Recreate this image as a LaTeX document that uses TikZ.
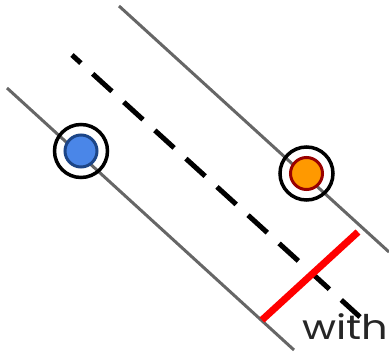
\documentclass[tikz,border=0pt]{standalone}
\usepackage{fontspec}
\setmainfont{Poppins}
\begin{document}
\begin{tikzpicture}[x=1pt,y=-1pt,
  rail/.style={draw=black!60, line width=3pt},
  midline/.style={draw=black, line width=5pt, dash pattern=on 26pt off 16pt, dash phase=14pt},
  ring/.style={circle, draw=black, line width=3.5pt, minimum size=53pt, inner sep=0pt},
  dot/.style={circle, line width=3pt, minimum size=32pt, inner sep=0pt},
  margin/.style={draw=red, line width=7pt}
]
\definecolor{ptblue}{HTML}{4A86E8}
\definecolor{ptblueedge}{HTML}{1C4587}
\definecolor{ptorange}{HTML}{FF9900}
\definecolor{ptorangeedge}{HTML}{990000}
\useasboundingbox (0,0) rectangle (389,353);
% boundary lines
\coordinate (u1) at (119,6);
\coordinate (u2) at (389,252);
\coordinate (l1) at (7,88);
\coordinate (l2) at (294,350);
\draw[rail] (u1) -- (u2);
\draw[rail] (l1) -- (l2);
% decision boundary
\coordinate (d1) at (72,55);
\coordinate (d2) at (360,317);
\draw[midline] (d1) -- (d2);
% support vectors
\node[ring] (rb) at (81,151) {};
\node[dot, fill=ptblue, draw=ptblueedge] (pb) at (81,151) {};
\node[ring] (ro) at (306.5,173.5) {};
\node[dot, fill=ptorange, draw=ptorangeedge] (po) at (306.5,173.5) {};
% margin width
\coordinate (m1) at (262,320);
\coordinate (m2) at (358,232);
\draw[margin] (m1) -- (m2);
\node[anchor=base west, inner sep=0pt, xscale=1.22, font=\fontsize{34}{36}\selectfont, text=black!85] (w) at (302,339) {with};
\end{tikzpicture}
\end{document}
